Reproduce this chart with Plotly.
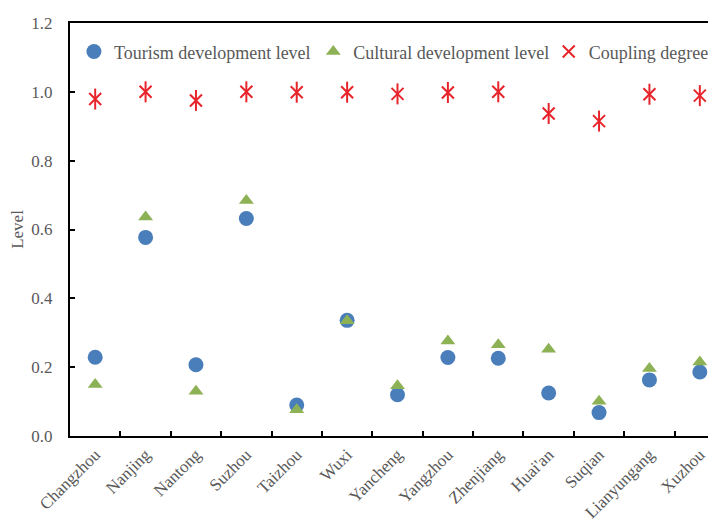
import plotly.graph_objects as go

cities = ["Changzhou", "Nanjing", "Nantong", "Suzhou", "Taizhou", "Wuxi", "Yancheng",
          "Yangzhou", "Zhenjiang", "Huai'an", "Suqian", "Lianyungang", "Xuzhou"]
tourism = [0.229, 0.577, 0.207, 0.632, 0.090, 0.336, 0.120, 0.228, 0.226, 0.125, 0.068, 0.163, 0.186]
cultural = [0.150, 0.636, 0.130, 0.684, 0.076, 0.335, 0.146, 0.276, 0.265, 0.252, 0.101, 0.196, 0.215]
coupling = [0.979, 1.000, 0.975, 1.000, 0.999, 0.999, 0.994, 0.998, 1.000, 0.937, 0.915, 0.993, 0.989]
y_ticks = [0.0, 0.2, 0.4, 0.6, 0.8, 1.0, 1.2]

FONT = "Liberation Serif"
GRAY = "#595959"

fig = go.Figure()
fig.add_trace(go.Scatter(x=cities, y=tourism, mode="markers", name="Tourism development level",
                         legend="legend",
                         marker=dict(symbol="circle", size=15, color="#4A7EBB")))
fig.add_trace(go.Scatter(x=cities, y=cultural, mode="markers", name="Cultural development level",
                         legend="legend2",
                         marker=dict(symbol="triangle-up", size=13, color="#8DB255")))
fig.add_trace(go.Scatter(x=cities, y=coupling, mode="markers", name="Coupling degree",
                         legend="legend3",
                         marker=dict(symbol="x-thin-open", size=12, color="#E8242B",
                                     line=dict(width=2, color="#E8242B"))))
fig.add_trace(go.Scatter(x=cities, y=coupling, mode="markers", showlegend=False,
                         marker=dict(symbol="line-ns-open", size=15, color="#E8242B",
                                     line=dict(width=2, color="#E8242B"))))

leg_common = dict(orientation="h", y=0.975, xanchor="left", yanchor="top",
                  bgcolor="rgba(0,0,0,0)", font=dict(family=FONT, size=18, color=GRAY),
                  itemwidth=30)

fig.update_layout(
    width=716, height=527,
    margin=dict(l=62, r=0, t=15, b=99),
    paper_bgcolor="white", plot_bgcolor="white",
    font=dict(family=FONT, size=16, color=GRAY),
    showlegend=True,
    legend=dict(x=0.006, **leg_common),
    legend2=dict(x=0.372, **leg_common),
    legend3=dict(x=0.732, **leg_common),
    xaxis=dict(type="category", categoryorder="array", categoryarray=cities,
               range=[-0.5, 12.48], showline=True, linecolor="black", linewidth=2,
               mirror=True, ticks="inside", ticklen=5, tickwidth=2, tickcolor="black",
               tickson="boundaries", tickangle=-45, showgrid=False, zeroline=False,
               tickfont=dict(family=FONT, size=17, color=GRAY)),
    yaxis=dict(range=[0, 1.2], tickvals=y_ticks, tickformat=".1f", showline=True,
               linecolor="black", linewidth=2, ticks="inside", ticklen=5, tickwidth=2,
               tickcolor="black", showgrid=False, zeroline=False, ticklabelstandoff=12,
               title=dict(text="Level", font=dict(family=FONT, size=17, color=GRAY), standoff=6),
               tickfont=dict(family=FONT, size=17, color=GRAY)),
)

fig.write_html("out.html")
